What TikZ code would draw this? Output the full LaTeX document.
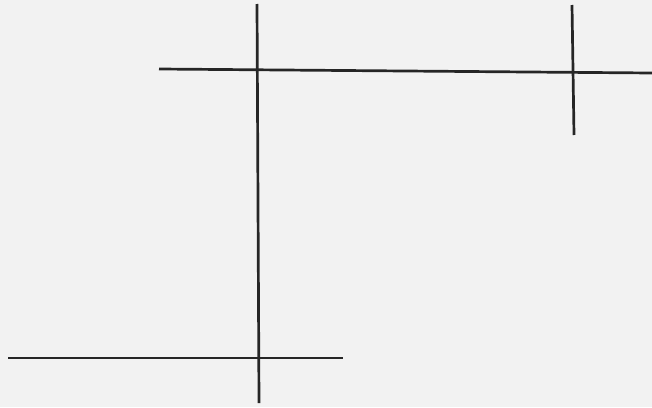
\documentclass[tikz,border=0pt]{standalone}
\begin{document}
\begin{tikzpicture}[x=1pt,y=-1pt,
  stroke/.style={draw=black!85,line width=2.7pt}]
\fill[gray!10] (0,0) rectangle (652,407);
\useasboundingbox (0,0) rectangle (652,407);
% top horizontal
\coordinate (th1) at (159,69);
\coordinate (th2) at (652,73);
\draw[stroke] (th1) -- (th2);
% main vertical
\coordinate (mv1) at (257,4);
\coordinate (mv2) at (259,403);
\draw[stroke] (mv1) -- (mv2);
% short vertical at right
\coordinate (sv1) at (572,5);
\coordinate (sv2) at (574,135);
\draw[stroke] (sv1) -- (sv2);
% bottom horizontal
\coordinate (bh1) at (8,358);
\coordinate (bh2) at (343,358);
\draw[stroke] (bh1) -- (bh2);
\end{tikzpicture}
\end{document}
